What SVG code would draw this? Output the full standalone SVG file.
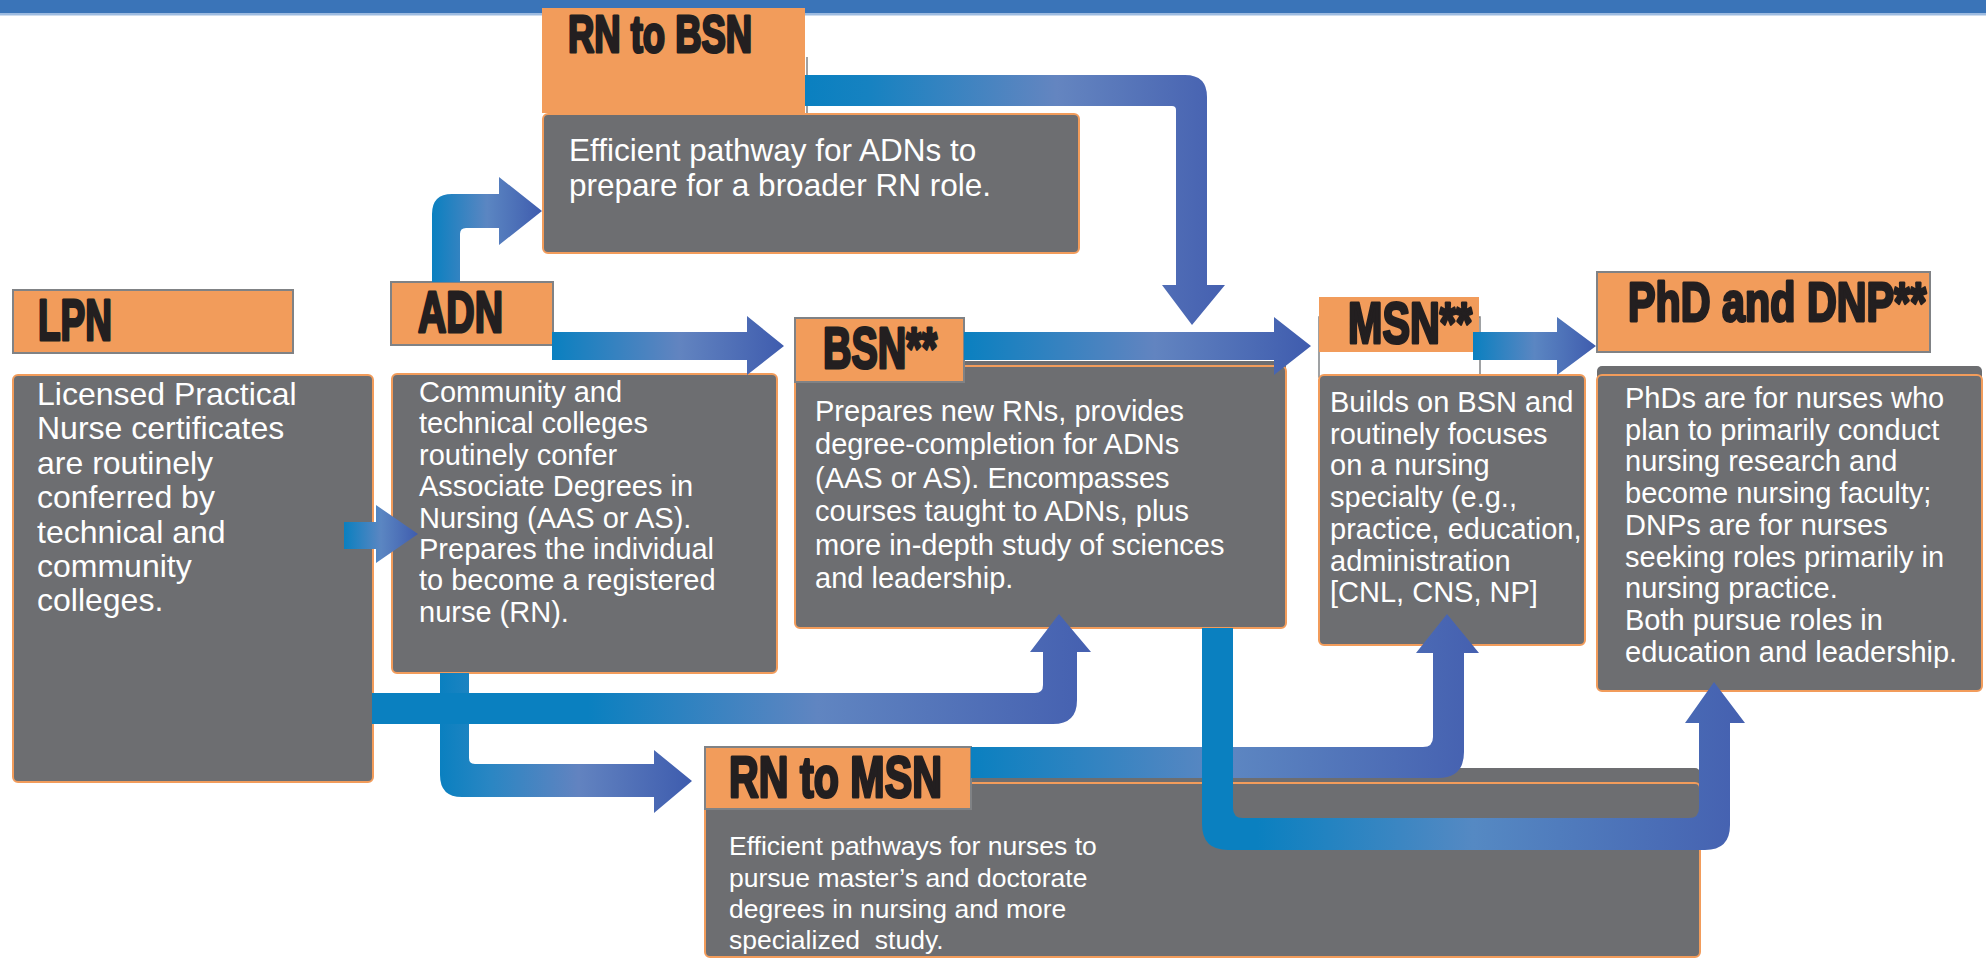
<svg xmlns="http://www.w3.org/2000/svg" width="1986" height="959" viewBox="0 0 1986 959">
<style>
.box{fill:#6D6E71;stroke:#F29C5B;stroke-width:2}
.shadow{fill:#6D6E71}
.lbl{fill:#F29C5B;stroke:#808285;stroke-width:2}
.lt{font-family:"Liberation Sans",Arial,sans-serif;font-weight:700;fill:#231F20;stroke:#231F20;stroke-width:3;stroke-linejoin:round}
.bt{font-family:"Liberation Sans",Arial,sans-serif;fill:#FFFFFF}
</style>
<defs>
<linearGradient id="gA" gradientUnits="userSpaceOnUse" x1="344" y1="0" x2="418" y2="0"><stop offset="0" stop-color="#0A80C0"/><stop offset="0.5" stop-color="#5B86C2"/><stop offset="1" stop-color="#3F5CAE"/></linearGradient>
<linearGradient id="gB" gradientUnits="userSpaceOnUse" x1="552" y1="0" x2="784" y2="0"><stop offset="0" stop-color="#0A80C0"/><stop offset="0.55" stop-color="#6284C0"/><stop offset="1" stop-color="#3F5CAE"/></linearGradient>
<linearGradient id="gC" gradientUnits="userSpaceOnUse" x1="432" y1="0" x2="542" y2="0"><stop offset="0" stop-color="#0A80C0"/><stop offset="0.5" stop-color="#5B86C2"/><stop offset="1" stop-color="#3F5CAE"/></linearGradient>
<linearGradient id="gD" gradientUnits="userSpaceOnUse" x1="805" y1="0" x2="1225" y2="0"><stop offset="0" stop-color="#0A80C0"/><stop offset="0.15" stop-color="#1682C1"/><stop offset="0.6" stop-color="#6485C0"/><stop offset="1" stop-color="#4560B0"/></linearGradient>
<linearGradient id="gE" gradientUnits="userSpaceOnUse" x1="964" y1="0" x2="1311" y2="0"><stop offset="0" stop-color="#0A80C0"/><stop offset="0.55" stop-color="#6284C0"/><stop offset="1" stop-color="#3F5CAE"/></linearGradient>
<linearGradient id="gF" gradientUnits="userSpaceOnUse" x1="1473" y1="0" x2="1596" y2="0"><stop offset="0" stop-color="#0A80C0"/><stop offset="0.5" stop-color="#5B86C2"/><stop offset="1" stop-color="#3F5CAE"/></linearGradient>
<linearGradient id="gG" gradientUnits="userSpaceOnUse" x1="372" y1="0" x2="1091" y2="0"><stop offset="0" stop-color="#0A80C0"/><stop offset="0.3" stop-color="#0A80C0"/><stop offset="0.62" stop-color="#6085C1"/><stop offset="1" stop-color="#4560B0"/></linearGradient>
<linearGradient id="gH" gradientUnits="userSpaceOnUse" x1="440" y1="0" x2="692" y2="0"><stop offset="0" stop-color="#0A80C0"/><stop offset="0.2" stop-color="#2A86C3"/><stop offset="0.55" stop-color="#6283C0"/><stop offset="1" stop-color="#3E5CAE"/></linearGradient>
<linearGradient id="gI" gradientUnits="userSpaceOnUse" x1="1202" y1="0" x2="1745" y2="0"><stop offset="0" stop-color="#0A80C0"/><stop offset="0.1" stop-color="#0A80C0"/><stop offset="0.5" stop-color="#5589C3"/><stop offset="1" stop-color="#4560B0"/></linearGradient>
<linearGradient id="gJ" gradientUnits="userSpaceOnUse" x1="971" y1="0" x2="1479" y2="0"><stop offset="0" stop-color="#0A80C0"/><stop offset="0.5" stop-color="#5D87C2"/><stop offset="1" stop-color="#4560B0"/></linearGradient>
</defs>
<rect x="0" y="0" width="1986" height="959" fill="#FFFFFF"/>
<rect x="0" y="0" width="1986" height="14" fill="#3A74B8"/>
<rect x="0" y="13" width="1986" height="2.5" fill="#9DBBE0"/>

<g id="node-rn-to-bsn">
<rect class="lbl" x="542" y="8" width="263" height="105" style="stroke:none"/>
<line x1="807" y1="57" x2="807" y2="113" stroke="#808285" stroke-width="1.5"/>
<text class="lt" x="568" y="52" font-size="52"><tspan textLength="184" lengthAdjust="spacingAndGlyphs">RN to BSN</tspan></text>
<rect class="box" x="543" y="114" width="536" height="139" rx="5"/>
<text class="bt" font-size="31.5"><tspan x="569" y="161">Efficient pathway for ADNs to</tspan><tspan x="569" y="196">prepare for a broader RN role.</tspan></text>
</g>

<g id="node-lpn">
<rect class="lbl" x="13" y="290" width="280" height="63"/>
<text class="lt" x="38" y="340" font-size="58"><tspan textLength="74" lengthAdjust="spacingAndGlyphs">LPN</tspan></text>
<rect class="box" x="13" y="375" width="360" height="407" rx="5"/>
<text class="bt" font-size="32"><tspan x="37" y="405">Licensed Practical</tspan><tspan x="37" y="439.4">Nurse certificates</tspan><tspan x="37" y="473.8">are routinely</tspan><tspan x="37" y="508.2">conferred by</tspan><tspan x="37" y="542.6">technical and</tspan><tspan x="37" y="577">community</tspan><tspan x="37" y="611.4">colleges.</tspan></text>
</g>

<g id="node-adn">
<rect class="lbl" x="391" y="282" width="162" height="63"/>
<text class="lt" x="418" y="332" font-size="58"><tspan textLength="85" lengthAdjust="spacingAndGlyphs">ADN</tspan></text>
<rect class="box" x="392" y="374" width="385" height="299" rx="5"/>
<text class="bt" font-size="29"><tspan x="419" y="402">Community and</tspan><tspan x="419" y="433.4">technical colleges</tspan><tspan x="419" y="464.8">routinely confer</tspan><tspan x="419" y="496.2">Associate Degrees in</tspan><tspan x="419" y="527.6">Nursing (AAS or AS).</tspan><tspan x="419" y="559">Prepares the individual</tspan><tspan x="419" y="590.4">to become a registered</tspan><tspan x="419" y="621.8">nurse (RN).</tspan></text>
</g>

<g id="node-bsn">
<rect class="shadow" x="795" y="361" width="491" height="40" rx="5"/>
<rect class="box" x="795" y="366" width="491" height="262" rx="5"/>
<rect class="lbl" x="795" y="318" width="169" height="64"/>
<text class="lt" x="823" y="368" font-size="58"><tspan textLength="114" lengthAdjust="spacingAndGlyphs">BSN**</tspan></text>
<text class="bt" font-size="29"><tspan x="815" y="421">Prepares new RNs, provides</tspan><tspan x="815" y="454.4">degree-completion for ADNs</tspan><tspan x="815" y="487.8">(AAS or AS). Encompasses</tspan><tspan x="815" y="521.2">courses taught to ADNs, plus</tspan><tspan x="815" y="554.6">more in-depth study of sciences</tspan><tspan x="815" y="588">and leadership.</tspan></text>
</g>

<g id="node-msn">
<rect x="1319" y="317" width="161" height="60" fill="#FFFFFF" stroke="#808285" stroke-width="1.5"/>
<rect class="lbl" x="1319" y="297" width="160" height="55" style="stroke:none"/>
<text class="lt" x="1348" y="343" font-size="58"><tspan textLength="124" lengthAdjust="spacingAndGlyphs">MSN**</tspan></text>
<rect class="box" x="1319" y="375" width="266" height="270" rx="5"/>
<text class="bt" font-size="29"><tspan x="1330" y="412">Builds on BSN and</tspan><tspan x="1330" y="443.7">routinely focuses</tspan><tspan x="1330" y="475.4">on a nursing</tspan><tspan x="1330" y="507.1">specialty (e.g.,</tspan><tspan x="1330" y="538.8">practice, education,</tspan><tspan x="1330" y="570.5">administration</tspan><tspan x="1330" y="602.2">[CNL, CNS, NP]</tspan></text>
</g>

<g id="node-phd-dnp">
<rect class="lbl" x="1597" y="272" width="333" height="80"/>
<text class="lt" transform="translate(1628 321) scale(0.74 1)" x="0" y="0" font-size="56" textLength="403" lengthAdjust="spacingAndGlyphs">PhD and DNP**</text>
<rect class="shadow" x="1597" y="366" width="385" height="60" rx="5"/>
<rect class="box" x="1597" y="375" width="385" height="316" rx="5"/>
<text class="bt" font-size="29"><tspan x="1625" y="408">PhDs are for nurses who</tspan><tspan x="1625" y="439.7">plan to primarily conduct</tspan><tspan x="1625" y="471.4">nursing research and</tspan><tspan x="1625" y="503.1">become nursing faculty;</tspan><tspan x="1625" y="534.8">DNPs are for nurses</tspan><tspan x="1625" y="566.5">seeking roles primarily in</tspan><tspan x="1625" y="598.2">nursing practice.</tspan><tspan x="1625" y="629.9">Both pursue roles in</tspan><tspan x="1625" y="661.6">education and leadership.</tspan></text>
</g>

<g id="node-rn-to-msn">
<rect class="shadow" x="971" y="768" width="729" height="60" rx="5"/>
<rect class="box" x="705" y="783" width="995" height="174" rx="5"/>
<rect class="lbl" x="705" y="747" width="266" height="62"/>
<text class="lt" x="729" y="797" font-size="58"><tspan textLength="213" lengthAdjust="spacingAndGlyphs">RN to MSN</tspan></text>
<text class="bt" font-size="26.5"><tspan x="729" y="855">Efficient pathways for nurses to</tspan><tspan x="729" y="886.5">pursue master’s and doctorate</tspan><tspan x="729" y="918">degrees in nursing and more</tspan><tspan x="729" y="948.5">specialized&#160; study.</tspan></text>
</g>

<g id="connectors">
<path d="M344,522 H376 V505 L418,534 L376,563 V549 H344 Z" fill="url(#gA)"/>
<path d="M552,332 H747 V316 L784,346 L747,375 V360 H552 Z" fill="url(#gB)"/>
<path d="M432,282 V214 Q432,194 452,194 H499 V177 L542,211 L499,245 V228 H466 Q460,228 460,234 V282 Z" fill="url(#gC)"/>
<path d="M805,75 H1185 Q1207,75 1207,97 V285 H1225 L1192,325 L1162,285 H1176 V110 Q1176,106 1172,106 H805 Z" fill="url(#gD)"/>
<path d="M964,332 H1274 V317 L1311,346 L1274,375 V360 H964 Z" fill="url(#gE)"/>
<path d="M1473,332 H1557 V317 L1596,346 L1557,375 V360 H1473 Z" fill="url(#gF)"/>
<path d="M440,673 H469 V758 Q469,764 475,764 H654 V750 L692,781 L654,813 V797 H462 Q440,797 440,775 Z" fill="url(#gH)"/>
<path d="M372,693 H1035 Q1043,693 1043,685 V652 H1030 L1059,614 L1091,652 H1077 V700 Q1077,724 1053,724 H372 Z" fill="url(#gG)"/>
<path d="M971,747 H1423 Q1433,747 1433,737 V653 H1416 L1447,614 L1479,653 H1464 V752 Q1464,778 1438,778 H971 Z" fill="url(#gJ)"/>
<path d="M1202,628 H1233 V808 Q1233,818 1243,818 H1689 Q1699,818 1699,808 V723 H1685 L1714,682 L1745,723 H1730 V825 Q1730,850 1705,850 H1228 Q1202,850 1202,824 Z" fill="url(#gI)"/>
</g>
</svg>
